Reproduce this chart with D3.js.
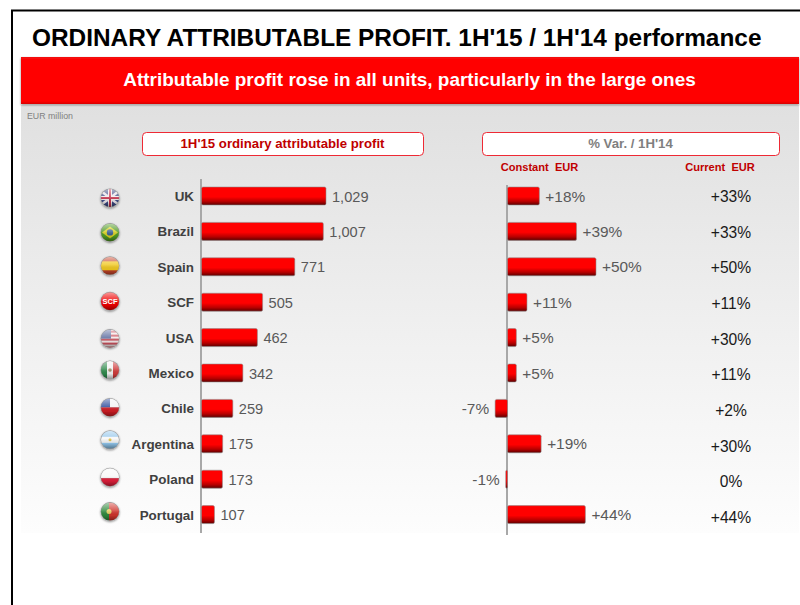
<!DOCTYPE html>
<html><head><meta charset="utf-8">
<script src="https://cdn.jsdelivr.net/npm/d3@7/dist/d3.min.js"></script>
<style>html,body{margin:0;padding:0;background:#fff}svg{display:block}text{font-family:"Liberation Sans",Arial,sans-serif}</style>
</head><body><svg id="c" width="800" height="605"></svg>
<script>
const categories=["UK","Brazil","Spain","SCF","USA","Mexico","Chile","Argentina","Poland","Portugal"];
const profit=[1029,1007,771,505,462,342,259,175,173,107];
const constantVar=[18,39,50,11,5,5,-7,19,-1,44];
const currentVar=[33,33,50,11,30,11,2,30,0,44];
const titleText="ORDINARY ATTRIBUTABLE PROFIT. 1H'15 / 1H'14 performance";
const bannerText="Attributable profit rose in all units, particularly in the large ones";

const svg=d3.select("#c");
const defs=svg.append("defs");
function grad(id,stops){const g=defs.append("linearGradient").attr("id",id).attr("x1",0).attr("y1",0).attr("x2",0).attr("y2",1);
 stops.forEach(s=>g.append("stop").attr("offset",s[0]).attr("stop-color",s[1]).attr("stop-opacity",s[2]===undefined?1:s[2]));}
grad("panel",[[0,"#e0e0e0"],[0.5,"#efefef"],[1,"#fdfdfd"]]);
grad("bar",[[0,"#ff0000"],[0.55,"#ff0000"],[0.8,"#b80000"],[1,"#5c0000"]]);
grad("banner",[[0,"#f01010"],[0.06,"#ff0000"],[0.94,"#ff0000"],[1,"#d80000"]]);
grad("gloss",[[0,"#ffffff",0.6],[0.45,"#ffffff",0.18],[0.7,"#000000",0.05],[1,"#000000",0.4]]);
const shadow=defs.append("filter").attr("id","soft").attr("x","-20%").attr("y","-20%").attr("width","140%").attr("height","160%");
shadow.append("feDropShadow").attr("dx",0).attr("dy",1).attr("stdDeviation",1).attr("flood-color","#000").attr("flood-opacity",0.45);
defs.append("filter").attr("id","blur").append("feGaussianBlur").attr("stdDeviation",0.55);

// frame
svg.append("rect").attr("x",21).attr("y",105).attr("width",778).attr("height",428).attr("fill","url(#panel)");
svg.append("path").attr("d","M800,10.5H12V605").attr("fill","none").attr("stroke","#000").attr("stroke-width",2);

svg.append("text").attr("x",32).attr("y",46).attr("font-size",24.4).attr("font-weight","bold").attr("fill","#000").text(titleText);

svg.append("rect").attr("x",21).attr("y",57).attr("width",778).attr("height",47).attr("fill","url(#banner)").attr("filter","url(#soft)");
svg.append("text").attr("x",409.5).attr("y",86).attr("text-anchor","middle").attr("font-size",18.95).attr("font-weight","bold").attr("fill","#fff").text(bannerText);

svg.append("text").attr("x",27).attr("y",119).attr("font-size",8.8).attr("fill","#808080").text("EUR million");

function pill(x,w,t,col){
 svg.append("rect").attr("x",x+.5).attr("y",132.5).attr("width",w).attr("height",23).attr("rx",4).attr("fill","#fff").attr("stroke","#ee2a35").attr("stroke-width",1);
 svg.append("text").attr("x",x+w/2).attr("y",148).attr("text-anchor","middle").attr("font-size",13.2).attr("font-weight","bold").attr("fill",col).text(t);
}
pill(142,281,"1H'15 ordinary attributable profit","#c00000");
pill(482,297,"% Var. / 1H'14","#7f7f7f");
svg.append("text").attr("x",539.5).attr("y",171).attr("text-anchor","middle").attr("font-size",11.1).attr("font-weight","bold").attr("fill","#c00000").style("white-space","pre").text("Constant  EUR");
svg.append("text").attr("x",720).attr("y",171).attr("text-anchor","middle").attr("font-size",11.1).attr("font-weight","bold").attr("fill","#c00000").style("white-space","pre").text("Current  EUR");

// scales
const y=d3.scalePoint().domain(categories).range([196,514.6]);
const yCurrent=d3.scalePoint().domain(categories).range([197,518]);
const xProfit=d3.scaleLinear().domain([0,1029]).range([201.5,326]);
const xVar=d3.scaleLinear().domain([0,50]).range([507.5,596]);
const barH=18;
const fmt=d3.format(",");
const sgn=v=>(v>0?"+":"")+v+"%";

function bar(g,x0,x1,cy){
 const l=Math.min(x0,x1),w=Math.max(Math.abs(x1-x0),1);
 g.append("rect").attr("x",l).attr("y",cy-barH/2).attr("width",w).attr("height",barH).attr("rx",1.5)
  .attr("fill","url(#bar)").attr("stroke","#8a8a8a").attr("stroke-opacity",.55).attr("stroke-width",1);
}

// axes
[[201,179,533],[507,185,535]].forEach(a=>svg.append("line").attr("x1",a[0]).attr("x2",a[0]).attr("y1",a[1]).attr("y2",a[2]).attr("stroke","#a8a8a8").attr("stroke-width",2));

const barsG=svg.append("g");
categories.forEach((c,i)=>{
 const cy=y(c);
 svg.append("text").attr("x",194).attr("y",cy+5).attr("text-anchor","end").attr("font-size",13.4).attr("font-weight","bold").attr("fill","#404040").text(c);
 bar(barsG,xProfit(0),xProfit(profit[i]),cy);
 svg.append("text").attr("x",xProfit(profit[i])+6).attr("y",cy+5.5).attr("font-size",14.6).attr("fill","#595959").text(fmt(profit[i]));
 const v=constantVar[i];
 bar(barsG,xVar(0),xVar(v),cy);
 svg.append("text").attr("x",v>=0?xVar(v)+6:xVar(v)-6).attr("y",cy+5.5).attr("text-anchor",v>=0?"start":"end").attr("font-size",15.4).attr("fill","#595959").text(sgn(v));
 svg.append("text").attr("x",731).attr("y",yCurrent(c)+5).attr("text-anchor","middle").attr("font-size",15.6).attr("fill","#1a1a1a").text(sgn(currentVar[i]));
});

// flag badges (decorative icons)
const flagNudge={UK:2,Brazil:1,Spain:-1,SCF:-1,USA:1,Mexico:-3,Chile:-1,Argentina:-4,Poland:-2,Portugal:-3};
const R=9;
const painters={
 UK(g){g.append("rect").attr("x",-R).attr("y",-R).attr("width",2*R).attr("height",2*R).attr("fill","#3b4a85");
  g.append("path").attr("d","M-9,-7L9,7M9,-7L-9,7").attr("stroke","#e6e0e6").attr("stroke-width",2.5);
  g.append("path").attr("d","M0,-9V9M-9,0H9").attr("stroke","#f2eaea").attr("stroke-width",4);
  g.append("path").attr("d","M0,-9V9M-9,0H9").attr("stroke","#c4304a").attr("stroke-width",2);},
 Brazil(g){g.append("rect").attr("x",-R).attr("y",-R).attr("width",2*R).attr("height",2*R).attr("fill","#4f9a22");
  g.append("path").attr("d","M-8,0L0,-6L8,0L0,6Z").attr("fill","#d8d020");
  g.append("circle").attr("r",3.2).attr("fill","#3a5f8f");},
 Spain(g){g.append("rect").attr("x",-R).attr("y",-R).attr("width",2*R).attr("height",2*R).attr("fill","#c8452a");
  g.append("rect").attr("x",-R).attr("y",-4.5).attr("width",2*R).attr("height",9).attr("fill","#f0c820");},
 SCF(g){g.append("rect").attr("x",-R).attr("y",-R).attr("width",2*R).attr("height",2*R).attr("fill","#f00000");},
 USA(g){g.append("rect").attr("x",-R).attr("y",-R).attr("width",2*R).attr("height",2*R).attr("fill","#f0e6e6");
  d3.range(-8,9,4).forEach(t=>g.append("rect").attr("x",-R).attr("y",t).attr("width",2*R).attr("height",2).attr("fill","#cc5560"));
  g.append("rect").attr("x",-R).attr("y",-R).attr("width",10).attr("height",9).attr("fill","#56689c");},
 Mexico(g){g.append("rect").attr("x",-R).attr("y",-R).attr("width",6).attr("height",2*R).attr("fill","#2f8a4c");
  g.append("rect").attr("x",-3).attr("y",-R).attr("width",6).attr("height",2*R).attr("fill","#f2f2f2");
  g.append("rect").attr("x",3).attr("y",-R).attr("width",6).attr("height",2*R).attr("fill","#cf3a3a");
  g.append("circle").attr("r",1.8).attr("fill","#9a8a60");},
 Chile(g){g.append("rect").attr("x",-R).attr("y",-R).attr("width",2*R).attr("height",R).attr("fill","#f2f2f2");
  g.append("rect").attr("x",-R).attr("y",-R).attr("width",9).attr("height",R).attr("fill","#2a4a9a");
  g.append("rect").attr("x",-R).attr("y",0).attr("width",2*R).attr("height",R).attr("fill","#d01c24");},
 Argentina(g){g.append("rect").attr("x",-R).attr("y",-R).attr("width",2*R).attr("height",2*R).attr("fill","#8fc4ea");
  g.append("rect").attr("x",-R).attr("y",-3).attr("width",2*R).attr("height",6).attr("fill","#f6f6f6");
  g.append("circle").attr("r",1.5).attr("fill","#e0c040");},
 Poland(g){g.append("rect").attr("x",-R).attr("y",-R).attr("width",2*R).attr("height",R+1).attr("fill","#f8f8f8");
  g.append("rect").attr("x",-R).attr("y",1).attr("width",2*R).attr("height",R).attr("fill","#e0203a");},
 Portugal(g){g.append("rect").attr("x",-R).attr("y",-R).attr("width",8).attr("height",2*R).attr("fill","#2f8a3c");
  g.append("rect").attr("x",-1).attr("y",-R).attr("width",10).attr("height",2*R).attr("fill","#d0342c");
  g.append("circle").attr("cx",-1).attr("r",2.5).attr("fill","#e6d060");}
};
categories.forEach((c,i)=>{
 const g=svg.append("g").attr("transform",`translate(110,${y(c)+flagNudge[c]})`);
 const clipId="clip"+i;
 defs.append("clipPath").attr("id",clipId).append("circle").attr("r",R);
 g.append("circle").attr("r",R+.5).attr("fill","#999").attr("filter","url(#soft)");
 const inner=g.append("g").attr("clip-path",`url(#${clipId})`).attr("filter","url(#blur)");
 painters[c](inner);
 inner.append("rect").attr("x",-R).attr("y",-R).attr("width",2*R).attr("height",2*R).attr("fill","url(#gloss)");
 if(c==="SCF")g.append("text").attr("y",3).attr("text-anchor","middle").attr("font-size",7.5).attr("font-weight","bold").attr("fill","#fff").text("SCF");
});
</script></body></html>
